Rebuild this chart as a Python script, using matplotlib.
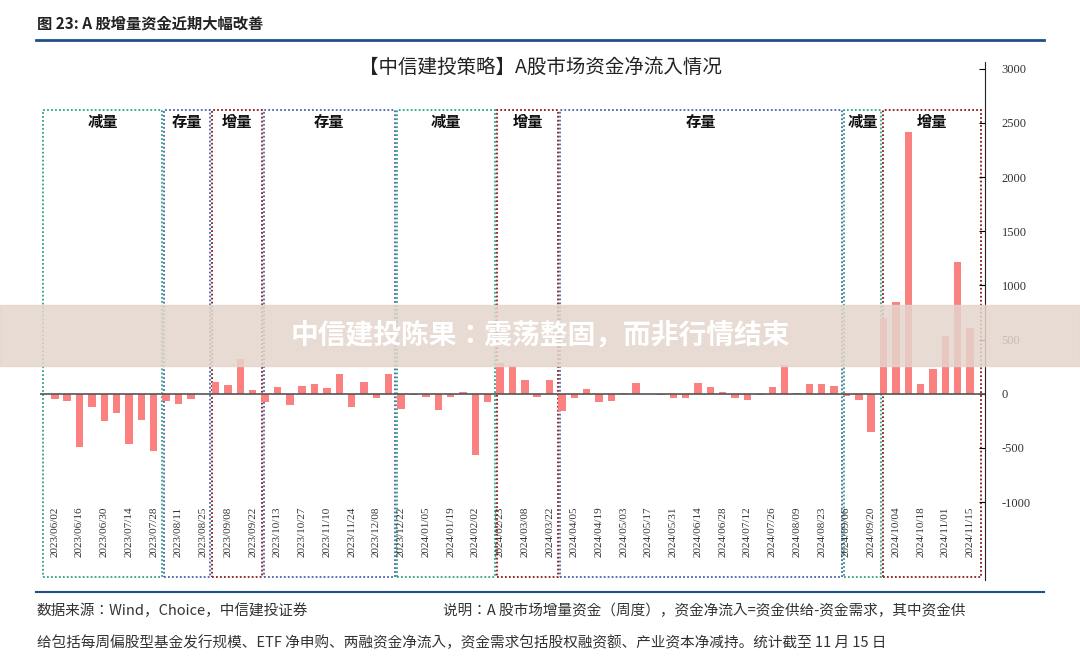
import datetime as dt
import matplotlib.pyplot as plt
import matplotlib.patches as mpatches
from matplotlib import font_manager

cjk = [f.name for f in font_manager.fontManager.ttflist if "CJK" in f.name]
plt.rcParams["font.family"] = "sans-serif"
plt.rcParams["font.sans-serif"] = ["Noto Sans CJK SC", "Noto Sans CJK JP"] + sorted(set(cjk)) + ["DejaVu Sans"]

# weekly dates, holiday weeks skipped
skip = {dt.date(2023, 10, 6), dt.date(2024, 2, 16)}
dates = []
d = dt.date(2023, 6, 2)
while d <= dt.date(2024, 11, 15):
    if d not in skip:
        dates.append(d)
    d += dt.timedelta(days=7)

values = [-46, -68, -494, -124, -256, -182, -460, -241, -531,
          -68, -99, -52, -5,
          108, 83, 318, 31,
          -77, 59, -108, 68, 93, 49, 185, -124, 108, -43, 185,
          -142, -9, -28, -151, -28, 19, -562, -74,
          285, 256, 127, -28, 127,
          -158, -37, 40, -74, -65, 9, 102, 2, -12, -37, -37, 102, 59, 19,
          -37, -59, -9, 59, 263, 9, 87, 87, 68,
          -19, -56, -349,
          700, 850, 2420, 86, 224, 537, 1212, 607]

box_labels = ["减量", "存量", "增量", "存量", "减量", "增量", "存量", "减量", "增量"]
box_edges = [-1.0, 8.75, 12.65, 16.8, 27.55, 35.65, 40.8, 63.75, 66.9, 75.0]
box_colors = {"减量": "#2fa37f", "存量": "#4a62b0", "增量": "#8b1a1a"}

yticks = [3000, 2500, 2000, 1500, 1000, 500, 0, -500, -1000]

fig = plt.figure(figsize=(10.8, 6.71), dpi=100)
ax = fig.add_axes([0.037, 0.136, 0.875, 0.772])

x = list(range(len(values)))
ax.bar(x, values, width=0.6, color="#fb8080", zorder=2)
ax.axhline(0, color="#555555", lw=1.2, zorder=3)

for k, lab in enumerate(box_labels):
    a, b = box_edges[k] + 0.08, box_edges[k + 1] - 0.08
    ax.add_patch(mpatches.Rectangle((a, -1690), b - a, 4310, fill=False,
                                    ls=(0, (1, 1.2)), lw=1.3, ec=box_colors[lab], zorder=1))
    ax.text((a + b) / 2, 2510, lab, ha="center", va="center", fontsize=11,
            fontweight="bold", color="#111111")

for i in range(0, len(dates), 2):
    ax.text(i, -1040, dates[i].strftime("%Y/%m/%d"), rotation=90, ha="center",
            va="top", fontsize=8, color="#333333", family="Liberation Serif")

ax.set_xlim(-1.2, 75.2)
ax.set_ylim(-1717, 3065)
ax.set_xticks([])
ax.yaxis.tick_right()
ax.set_yticks(yticks)
ax.set_yticklabels([str(t) for t in yticks], family="Liberation Serif", fontsize=9, color="#333333")
ax.tick_params(axis="y", direction="in", length=4, pad=12)
for s in ["top", "left", "bottom"]:
    ax.spines[s].set_visible(False)
ax.spines["right"].set_color("#222222")

fig.text(0.5, 0.9, "【中信建投策略】A股市场资金净流入情况", ha="center", va="center",
         fontsize=14, color="#222222")
fig.text(0.034, 0.965, "图 23: A 股增量资金近期大幅改善", ha="left", va="center",
         fontsize=11, fontweight="bold", color="#222222")
fig.add_artist(plt.Line2D([0.033, 0.967], [0.94, 0.94], color="#1f4e8c", lw=2))
fig.add_artist(plt.Line2D([0.033, 0.967], [0.117, 0.117], color="#1f4e8c", lw=1.5))

fig.text(0.034, 0.09, "数据来源：Wind，Choice，中信建投证券", ha="left", va="center",
         fontsize=10.5, style="italic", color="#333333")
fig.text(0.41, 0.09, "说明：A 股市场增量资金（周度），资金净流入=资金供给-资金需求，其中资金供",
         ha="left", va="center", fontsize=10.5, style="italic", color="#333333")
fig.text(0.034, 0.042, "给包括每周偏股型基金发行规模、ETF 净申购、两融资金净流入，资金需求包括股权融资额、产业资本净减持。统计截至 11 月 15 日",
         ha="left", va="center", fontsize=10.5, style="italic", color="#333333")

# watermark banner
fig.add_artist(mpatches.Rectangle((0, 0.455), 1, 0.09, transform=fig.transFigure,
                                  color="#e3d5cc", alpha=0.85, zorder=10))
fig.text(0.5, 0.5, "中信建投陈果：震荡整固，而非行情结束", ha="center", va="center",
         fontsize=20, fontweight="bold", color="white", zorder=11)

fig.savefig("out.png", dpi=100, facecolor="white")
